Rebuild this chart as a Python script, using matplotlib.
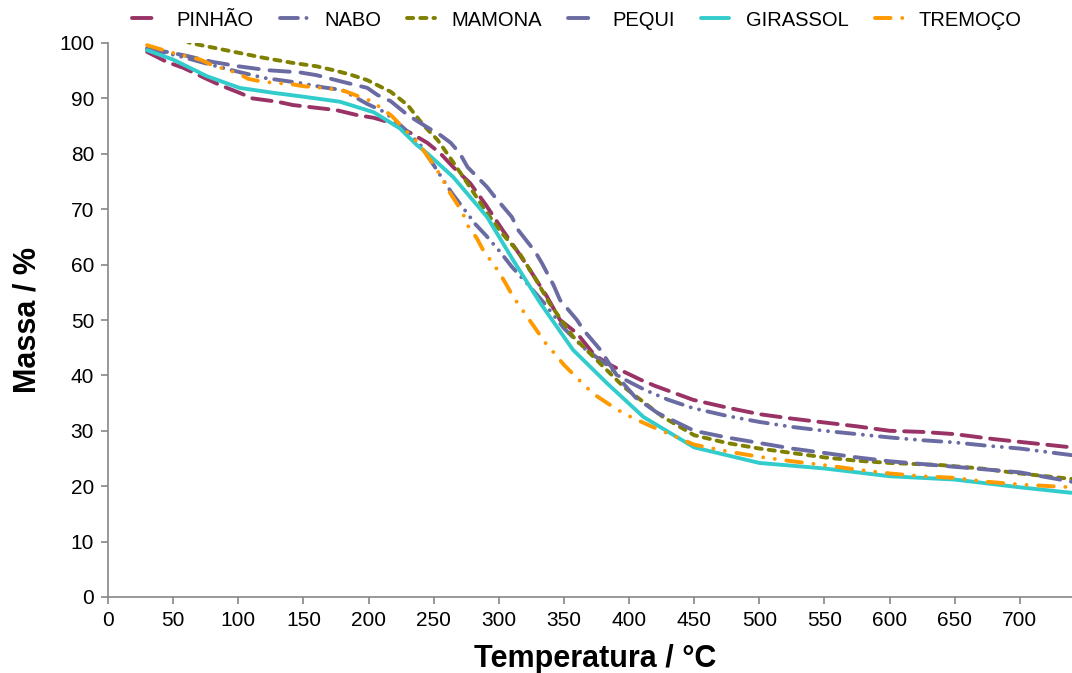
import numpy as np
import matplotlib
matplotlib.use('Agg')
import matplotlib.pyplot as plt

plt.rcParams['font.family'] = ['Liberation Sans', 'DejaVu Sans']

# data (temperature in °C, mass in %)
pinhao_x = [30, 45, 58, 75, 86, 101, 111, 130, 142, 160, 175, 191, 204, 217, 232, 245, 255, 265, 278, 290,
            303, 314, 324, 337, 347, 360, 373, 383, 393, 409, 420, 449, 475, 500, 525, 550, 575, 600, 625,
            650, 680, 700, 720, 740]
pinhao_y = [98.4, 96.6, 95.5, 93.6, 92.4, 91.0, 90.0, 89.4, 88.8, 88.3, 87.9, 87.0, 86.5, 85.6, 83.8, 82.0,
            80.1, 77.6, 74.7, 70.8, 66.2, 62.5, 59.0, 54.2, 50.0, 47.6, 43.8, 42.2, 41.0, 39.2, 38.1, 35.6,
            34.2, 33.0, 32.2, 31.5, 30.8, 30.0, 29.8, 29.4, 28.5, 28.0, 27.5, 27.0]

nabo_x = [30, 45, 60, 80, 100, 120, 147, 165, 180, 199, 210, 218, 230, 240, 251, 257, 264, 275, 282, 290,
          301, 310, 322, 335, 350, 365, 383, 393, 402, 412, 430, 449, 475, 500, 525, 550, 575, 600, 625,
          650, 675, 700, 720, 740]
nabo_y = [99.0, 98.2, 97.3, 96.0, 94.8, 93.7, 92.8, 92.0, 91.5, 89.0, 87.8, 86.5, 84.0, 81.5, 77.6, 75.4,
          72.9, 69.5, 67.3, 65.3, 62.3, 59.6, 56.5, 53.0, 48.5, 45.0, 41.9, 39.7, 38.6, 37.4, 35.6, 34.1,
          32.7, 31.6, 30.7, 30.0, 29.4, 28.8, 28.3, 27.9, 27.3, 26.8, 26.2, 25.6]

mamona_x = [30, 50, 63, 80, 101, 120, 142, 160, 173, 186, 199, 217, 230, 242, 253, 262, 275, 291, 303, 316,
            328, 339, 357, 375, 396, 426, 450, 475, 500, 525, 550, 575, 600, 640, 670, 700, 740]
mamona_y = [103.0, 101.6, 100.0, 99.2, 98.2, 97.3, 96.4, 95.8, 95.1, 94.3, 93.3, 91.2, 88.8, 85.2, 82.5,
            79.5, 75.0, 69.3, 65.5, 62.0, 57.5, 53.0, 47.0, 42.8, 37.9, 32.5, 29.2, 27.8, 26.8, 26.0, 25.2,
            24.6, 24.2, 23.8, 23.2, 22.3, 21.3]

pequi_x = [30, 45, 60, 80, 100, 122, 147, 160, 180, 199, 207, 217, 230, 245, 255, 263, 270, 276, 291, 297,
           310, 315, 328, 333, 342, 347, 360, 365, 378, 392, 405, 422, 450, 475, 500, 525, 550, 575, 600,
           650, 700, 740]
pequi_y = [99.0, 98.4, 97.7, 96.6, 95.8, 95.1, 94.7, 94.2, 93.0, 91.9, 90.6, 89.5, 87.0, 84.8, 83.4, 82.0,
           80.1, 77.6, 74.0, 72.2, 68.6, 66.2, 62.3, 60.3, 56.3, 53.6, 50.0, 48.2, 44.6, 39.5, 36.0, 33.2,
           30.0, 28.8, 27.8, 26.8, 26.0, 25.2, 24.5, 23.5, 22.5, 20.8]

girassol_x = [30, 50, 76, 101, 127, 147, 178, 204, 224, 237, 245, 265, 291, 311, 332, 357, 383, 411, 450,
              500, 550, 600, 650, 700, 740]
girassol_y = [98.7, 97.0, 94.0, 91.9, 91.0, 90.4, 89.4, 87.5, 84.6, 81.6, 80.1, 75.8, 68.6, 60.8, 53.0,
              44.6, 38.6, 32.5, 27.0, 24.2, 23.2, 21.8, 21.2, 19.8, 18.8]

tremoco_x = [30, 40, 50, 59, 71, 80, 99, 108, 119, 128, 140, 150, 160, 172, 182, 200, 209, 218, 226, 238,
             250, 256, 261, 272, 276, 283, 288, 300, 306, 311, 325, 336, 343, 350, 364, 373, 382, 391, 403,
             420, 450, 475, 500, 525, 550, 575, 600, 625, 650, 675, 700, 740]
tremoco_y = [99.6, 98.9, 98.2, 97.7, 97.0, 96.0, 94.6, 93.5, 93.0, 92.8, 92.6, 92.2, 92.0, 91.7, 91.3, 89.7,
             88.4, 86.8, 84.8, 82.0, 78.0, 75.8, 73.5, 69.5, 67.1, 64.8, 62.6, 58.7, 56.3, 54.2, 49.5, 45.8,
             43.9, 41.9, 38.6, 36.6, 35.2, 33.8, 32.3, 30.5, 27.5, 26.3, 25.3, 24.5, 23.8, 23.0, 22.3, 21.8,
             21.5, 20.8, 20.3, 19.8]

x_ticks = list(range(0, 701, 50))
y_ticks = list(range(0, 101, 10))

fig = plt.figure(figsize=(10.72, 6.73), dpi=100)
ax = fig.add_axes([108 / 1072, 76 / 673, 964 / 1072, 554 / 673])

lw = 2.8
series = [
    ('PINHÃO', pinhao_x, pinhao_y, '#993366', (0, (5.0, 2.4))),
    ('NABO', nabo_x, nabo_y, '#6B6BA3', (0, (4.6, 2.2, 0.01, 2.2, 0.01, 2.2))),
    ('MAMONA', mamona_x, mamona_y, '#808000', (0, (1.6, 1.8))),
    ('PEQUI', pequi_x, pequi_y, '#6B6BA3', (0, (5.2, 2.8))),
    ('GIRASSOL', girassol_x, girassol_y, '#33CCCC', '-'),
    ('TREMOÇO', tremoco_x, tremoco_y, '#FF9900', (0, (4.0, 3.0, 0.01, 3.0, 0.01, 3.0))),
]
handles = []
for name, xs, ys, col, ls in series:
    h, = ax.plot(xs, ys, color=col, lw=lw, linestyle=ls, label=name,
                 dash_capstyle='round', solid_capstyle='round')
    handles.append(h)

ax.set_xlim(0, 740)
ax.set_ylim(0, 100)
ax.set_xticks(x_ticks)
ax.set_yticks(y_ticks)
for s in ['top', 'right']:
    ax.spines[s].set_visible(False)
for s in ['left', 'bottom']:
    ax.spines[s].set_color('#868686')
    ax.spines[s].set_linewidth(1.2)
ax.tick_params(direction='out', length=5, width=1.2, color='#868686', labelsize=15, pad=5)

fig.text(28 / 1072, 1 - 320 / 673, 'Massa / %', rotation=90, ha='center', va='center',
         fontsize=22, fontweight='bold')
fig.text(595 / 1072, 1 - 659 / 673, 'Temperatura / °C', ha='center', va='center',
         fontsize=22, fontweight='bold')

fig.legend(handles=handles, loc='center', bbox_to_anchor=(577 / 1072, 1 - 20 / 673), ncol=6,
           frameon=False, fontsize=14.5, handlelength=1.4, handletextpad=0.8, columnspacing=1.3)

fig.savefig('out.png', dpi=100)
